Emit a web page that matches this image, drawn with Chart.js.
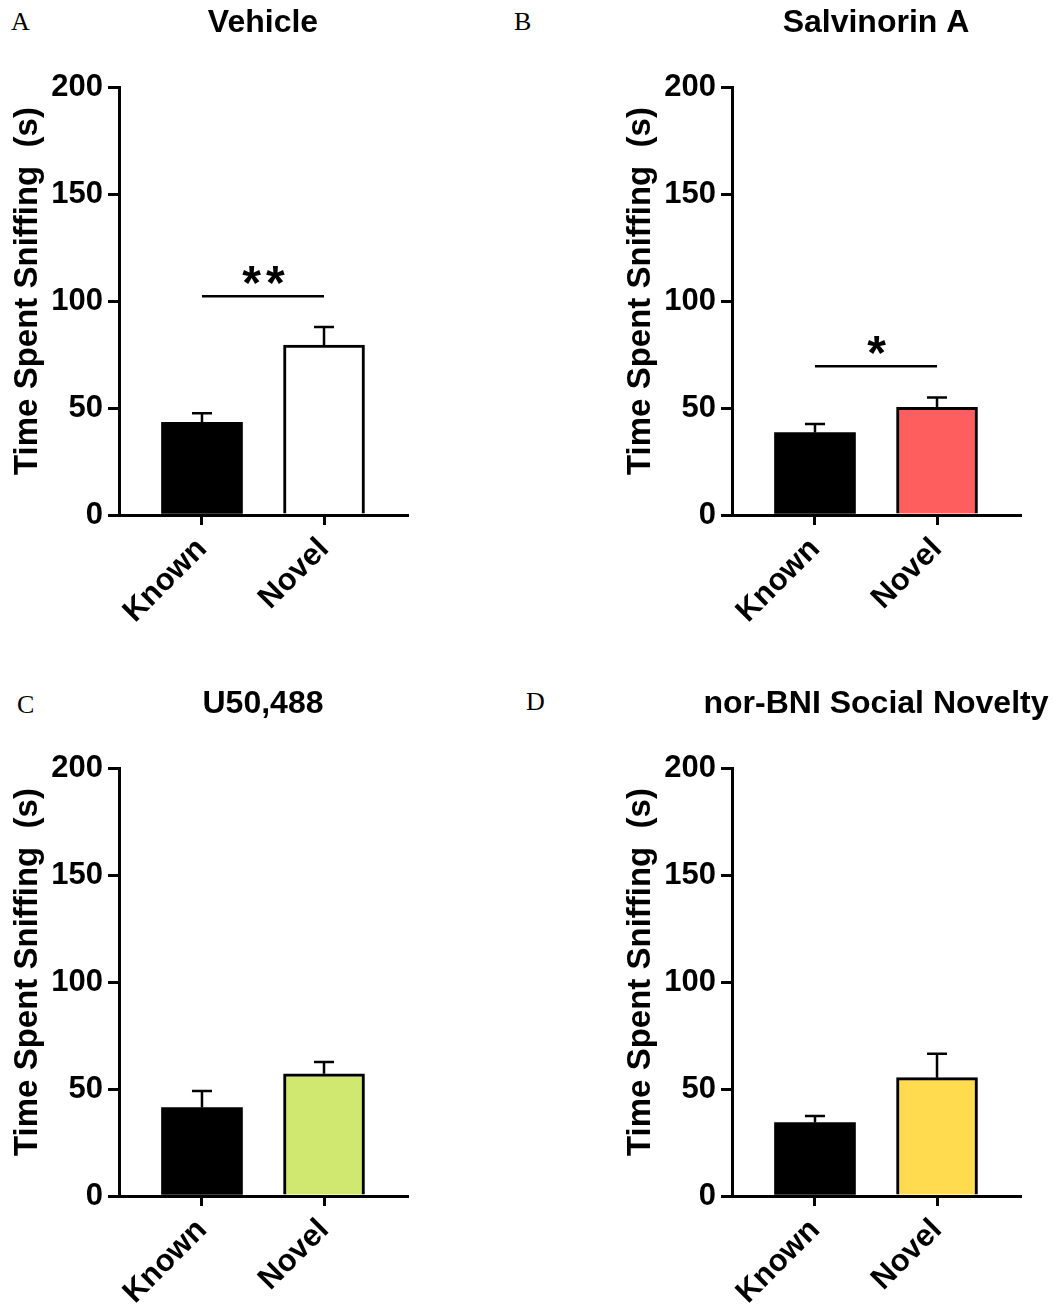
<!DOCTYPE html>
<html>
<head>
<meta charset="utf-8">
<script src="https://cdn.jsdelivr.net/npm/chart.js@4.4.1/dist/chart.umd.min.js"></script>
<style>
  body { margin: 0; background: #fff; width: 1055px; height: 1312px; position: relative; overflow: hidden; }
  .panel { position: absolute; width: 442px; height: 631px; }
  .letter { position: absolute; font-family: "Liberation Serif", "Times New Roman", serif; font-size: 26px; line-height: 1; color: #000; }
</style>
</head>
<body>
<div class="letter" style="left:11px; top:9px;">A</div>
<div class="letter" style="left:514px; top:9px;">B</div>
<div class="letter" style="left:17px; top:692px;">C</div>
<div class="letter" style="left:526px; top:689px;">D</div>
<canvas id="panelA" class="panel" width="442" height="631" style="left:0; top:0;"></canvas>
<canvas id="panelB" class="panel" width="442" height="631" style="left:613px; top:0;"></canvas>
<canvas id="panelC" class="panel" width="442" height="631" style="left:0; top:681px;"></canvas>
<canvas id="panelD" class="panel" width="442" height="631" style="left:613px; top:681px;"></canvas>
<script>
// categories and tick labels
const categories = ['Known', 'Novel'];
const yTicks = [0, 50, 100, 150, 200];
const yAxisTitle = 'Time Spent Sniffing  (s)';

// means and SEM
const vehicleMeans = [43.3, 79.4];
const vehicleSem = [4.2, 8.5];
const salvinorinMeans = [38.5, 50.3];
const salvinorinSem = [4.0, 4.6];
const u50Means = [41.3, 57.1];
const u50Sem = [7.8, 5.5];
const norbniMeans = [34.3, 55.3];
const norbniSem = [3.1, 11.2];

// significance brackets (null = none)
const sigLabels = ['**', '*', null, null];
const sigLevels = [102.2, 69.5, null, null];

const FONT = '"Liberation Sans", Arial, sans-serif';

const panelDecor = {
    id: 'panelDecor',
    afterDatasetsDraw(chart, args, opts) {
        const {ctx, scales: {x, y}} = chart;
        const ds = chart.data.datasets[0];
        const meta = chart.getDatasetMeta(0);
        ctx.save();
        ctx.strokeStyle = '#000';
        ctx.lineWidth = 2.5;
        // error bars, upper half only
        meta.data.forEach((bar, i) => {
            const top = y.getPixelForValue(ds.data[i].y + opts.sem[i]);
            ctx.beginPath();
            ctx.moveTo(bar.x, bar.y);
            ctx.lineTo(bar.x, top);
            ctx.moveTo(bar.x - 10, top);
            ctx.lineTo(bar.x + 10, top);
            ctx.stroke();
        });
        if (opts.sigText) {
            const ly = y.getPixelForValue(opts.sigLevel);
            const x0 = x.getPixelForValue(0);
            const x1 = x.getPixelForValue(1);
            ctx.beginPath();
            ctx.moveTo(x0, ly);
            ctx.lineTo(x1, ly);
            ctx.stroke();
            ctx.fillStyle = '#000';
            ctx.font = 'bold 48px ' + FONT;
            ctx.letterSpacing = '5px';
            ctx.textAlign = 'center';
            ctx.textBaseline = 'alphabetic';
            ctx.fillText(opts.sigText, (x0 + x1) / 2 + 3, ly + 3);
        }
        ctx.restore();
    },
    afterDraw(chart, args, opts) {
        const {ctx, chartArea} = chart;
        ctx.save();
        ctx.fillStyle = '#000';
        ctx.font = 'bold 32px ' + FONT;
        ctx.textAlign = 'center';
        ctx.textBaseline = 'middle';
        ctx.fillText(opts.title, (chartArea.left + chartArea.right) / 2, 23);
        // y axis title
        ctx.translate(28, 291);
        ctx.rotate(-Math.PI / 2);
        ctx.font = 'bold 33px ' + FONT;
        ctx.fillText(yAxisTitle, 0, 0);
        ctx.restore();
    }
};

function buildPanel(id, title, means, sem, novelColor, sigText, sigLevel) {
    const config = {
        type: 'bar',
        data: {
            datasets: [{
                data: means.map((m, i) => ({x: i, y: m})),
                backgroundColor: ['#000000', novelColor],
                borderColor: '#000000',
                borderWidth: [0, 3],
                borderSkipped: 'start',
                barThickness: 81
            }]
        },
        options: {
            responsive: false,
            animation: false,
            events: [],
            layout: {padding: {top: 87, right: 35, left: 0, bottom: 0}},
            plugins: {
                legend: {display: false},
                tooltip: {enabled: false},
                panelDecor: {title: title, sem: sem, sigText: sigText, sigLevel: sigLevel}
            },
            scales: {
                x: {
                    type: 'linear',
                    min: -0.68,
                    max: 1.68,
                    offset: false,
                    afterBuildTicks: s => { s.ticks = categories.map((c, i) => ({value: i})); },
                    afterFit: s => { s.height = 116; },
                    ticks: {
                        callback: v => categories[v],
                        autoSkip: false,
                        minRotation: 45,
                        maxRotation: 45,
                        color: '#000',
                        padding: 6,
                        font: {family: FONT, size: 31, weight: 'bold'}
                    },
                    grid: {offset: false, drawOnChartArea: false, drawTicks: true, tickLength: 10, lineWidth: 3, color: '#000'},
                    border: {display: true, color: '#000', width: 3}
                },
                y: {
                    min: 0,
                    max: 200,
                    afterBuildTicks: s => { s.ticks = yTicks.map(v => ({value: v})); },
                    afterFit: s => { s.width = 119; },
                    ticks: {
                        color: '#000',
                        padding: 5,
                        font: {family: FONT, size: 31, weight: 'bold'}
                    },
                    grid: {drawOnChartArea: false, drawTicks: true, tickLength: 11, lineWidth: 3, color: '#000'},
                    border: {display: true, color: '#000', width: 3}
                }
            }
        },
        plugins: [panelDecor]
    };
    return new Chart(document.getElementById(id), config);
}

buildPanel('panelA', 'Vehicle', vehicleMeans, vehicleSem, '#ffffff', sigLabels[0], sigLevels[0]);
buildPanel('panelB', 'Salvinorin A', salvinorinMeans, salvinorinSem, '#ff5e5e', sigLabels[1], sigLevels[1]);
buildPanel('panelC', 'U50,488', u50Means, u50Sem, '#d0e870', sigLabels[2], sigLevels[2]);
buildPanel('panelD', 'nor-BNI Social Novelty', norbniMeans, norbniSem, '#ffdb50', sigLabels[3], sigLevels[3]);
</script>
</body>
</html>
